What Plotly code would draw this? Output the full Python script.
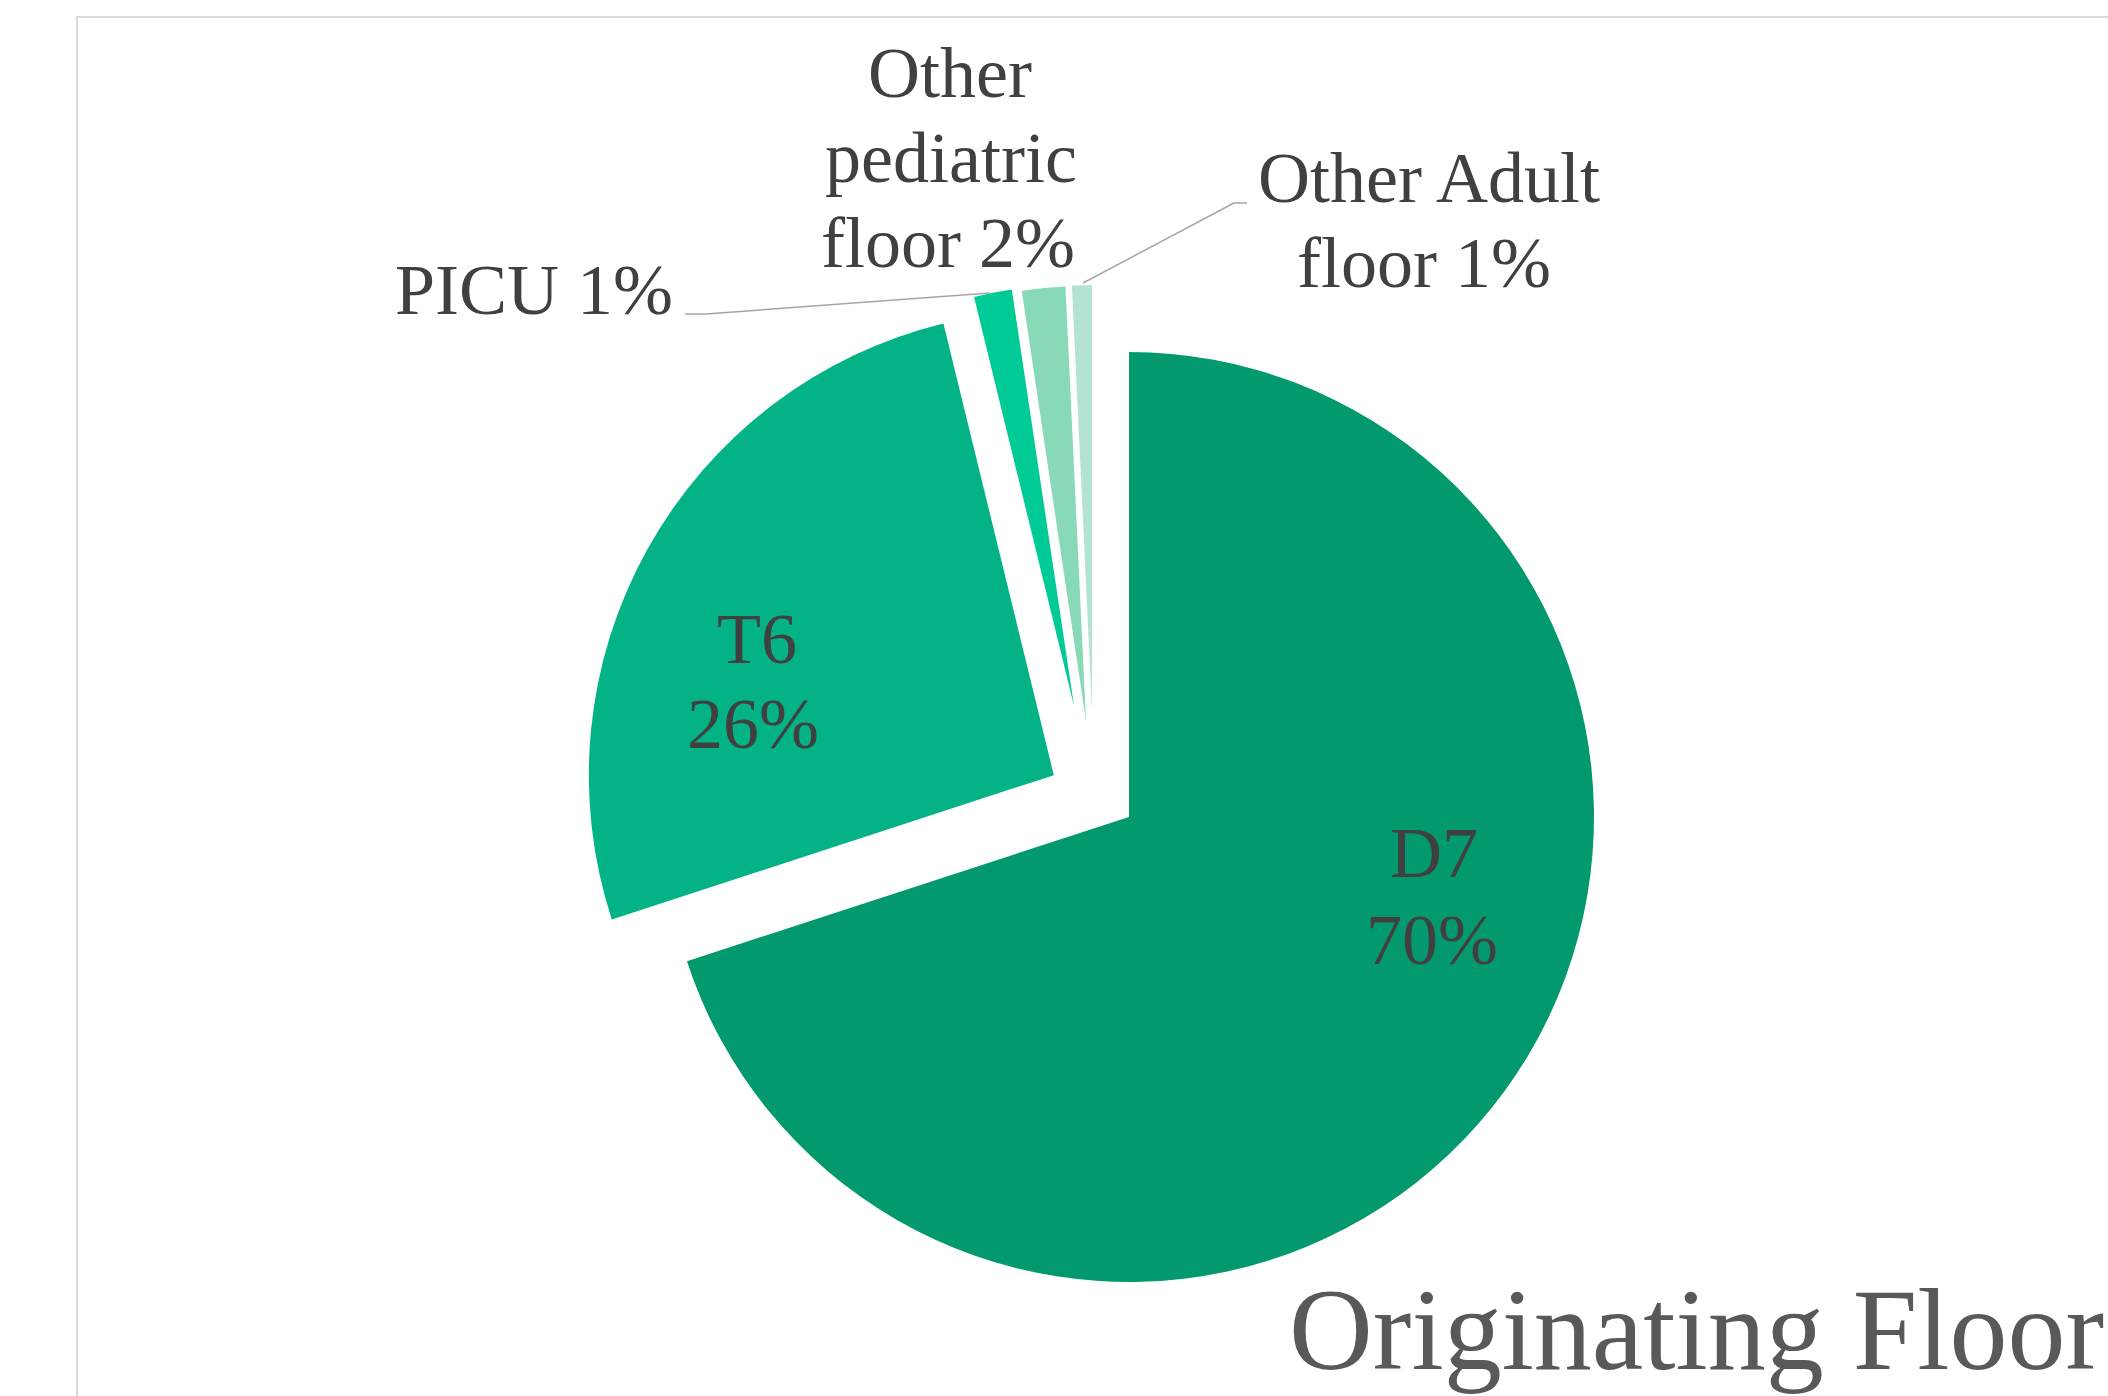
import plotly.graph_objects as go

W, H = 2108, 1396

# ---- data ----
labels = ["D7", "T6", "PICU", "Other pediatric floor", "Other Adult floor"]
values = [69.7, 26.1, 1.45, 1.6, 0.75]
colors = ["#03996F", "#03B386", "#00CA96", "#87D9B8", "#B4E3D1"]
chart_title = "Originating Floor"

total = sum(values)
pcts = [f"{int(v / total * 100 + 0.5)}%" for v in values]

CLEAR = "rgba(0,0,0,0)"
LABEL_FONT = "Liberation Serif, Times New Roman, serif"
LABEL_COLOR = "#404040"


def px(x):
    return x / W


def py(y):
    return 1 - y / H


def domain(cx, cy, r, pull=0.0):
    half = r * (1 + pull)
    return dict(x=[(cx - half) / W, (cx + half) / W],
                y=[1 - (cy + half) / H, 1 - (cy - half) / H])


fig = go.Figure()

# main pie: D7 and T6 (T6 exploded)
main_colors = [colors[0], colors[1], CLEAR, CLEAR, CLEAR]
main_pull = [0, 0.185, 0, 0, 0]
fig.add_trace(go.Pie(
    labels=labels, values=values, sort=False, direction="clockwise", rotation=0,
    marker=dict(colors=main_colors, line=dict(width=0)), pull=main_pull,
    domain=domain(1129, 817, 465, max(main_pull)),
    textinfo="none", hoverinfo="label+percent", showlegend=False,
))

# small exploded slices, each with its own offset
small = [(2, 1074, 706, 421), (3, 1086, 721, 435), (4, 1092, 710, 425)]
for idx, cx, cy, r in small:
    cols = [CLEAR] * len(values)
    cols[idx] = colors[idx]
    fig.add_trace(go.Pie(
        labels=labels, values=values, sort=False, direction="clockwise", rotation=0,
        marker=dict(colors=cols, line=dict(width=0)),
        domain=domain(cx, cy, r),
        textinfo="none", hoverinfo="skip", showlegend=False,
    ))

annotations = []


def add_text(text, x, baseline, size=72, color=LABEL_COLOR, xanchor="center"):
    annotations.append(dict(
        text=text, x=px(x), y=py(baseline - 0.3375 * size), xref="paper", yref="paper",
        xanchor=xanchor, yanchor="middle", showarrow=False,
        font=dict(family=LABEL_FONT, size=size, color=color),
    ))


# D7
add_text(labels[0], 1434, 877)
add_text(pcts[0], 1432, 964)
# T6
add_text(labels[1], 757, 663)
add_text(pcts[1], 753, 748)
# PICU
add_text(f"{labels[2]} {pcts[2]}", 393, 314, xanchor="left")
# Other pediatric floor
ped = labels[3].split(" ")
add_text(ped[0], 950, 97)
add_text(ped[1], 951, 182)
add_text(f"{ped[2]} {pcts[3]}", 948, 267)
# Other Adult floor
ad = labels[4].rsplit(" ", 1)
add_text(ad[0], 1429, 202)
add_text(f"{ad[1]} {pcts[4]}", 1424, 287)
# chart title
add_text(chart_title, 2106, 1369, size=116, color="#595959", xanchor="right")

shapes = []


def add_line(points, color="#A6A6A6", width=1.5):
    for (x0, y0), (x1, y1) in zip(points[:-1], points[1:]):
        shapes.append(dict(type="line", xref="paper", yref="paper",
                           x0=px(x0), y0=py(y0), x1=px(x1), y1=py(y1),
                           line=dict(color=color, width=width)))


add_line([(685, 314), (706, 314), (990, 293)])
add_line([(1247, 203), (1234, 203), (1083, 283)])

# chart area border
shapes.append(dict(type="rect", xref="paper", yref="paper",
                   x0=px(77), y0=py(1420), x1=px(2130), y1=py(17),
                   line=dict(color="#D9D9D9", width=2), fillcolor="rgba(0,0,0,0)"))

fig.update_layout(
    width=W, height=H,
    margin=dict(l=0, r=0, t=0, b=0),
    paper_bgcolor="white", plot_bgcolor="white",
    annotations=annotations, shapes=shapes,
    showlegend=False,
)

fig.write_html("out.html", config={"displayModeBar": False},
               post_script="document.body.style.margin='0';document.body.style.overflow='hidden';")
